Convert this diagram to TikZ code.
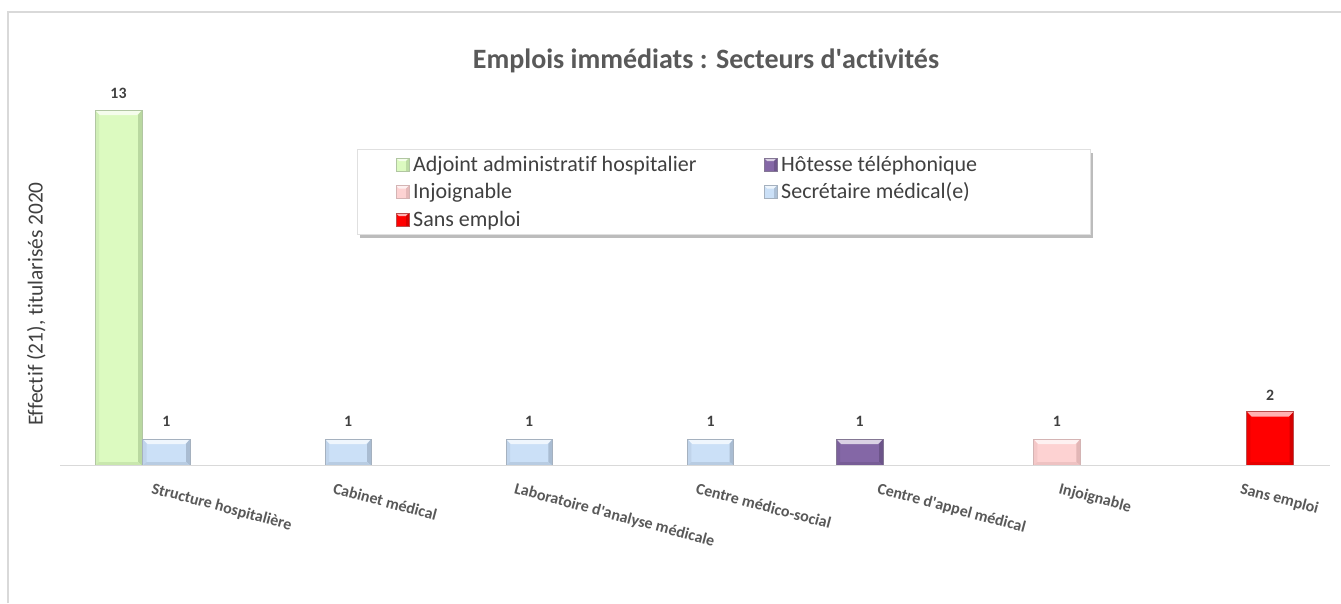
\documentclass[tikz,border=0pt]{standalone}
\usepackage{fontspec}
\setmainfont{Carlito}[Ligatures={NoCommon}]
\usetikzlibrary{shadows}
\definecolor{framegray}{HTML}{D9D9D9}
\definecolor{titlegray}{HTML}{595959}
\definecolor{textdark}{HTML}{404040}
\definecolor{greenM}{HTML}{DCFAC0}
\definecolor{greenD}{HTML}{8FAE7A}
\definecolor{blueM}{HTML}{CBE0F7}
\definecolor{blueD}{HTML}{7F90A4}
\definecolor{purpleM}{HTML}{8467A6}
\definecolor{purpleD}{HTML}{4F3D66}
\definecolor{pinkM}{HTML}{FDD2D2}
\definecolor{pinkD}{HTML}{C29393}
\definecolor{redM}{HTML}{FF0000}
\definecolor{redD}{HTML}{A00000}
\newcommand\bevbar[5]{%
  \fill[#4] (#1,#3) rectangle (#2,465.5);
  \fill[#4!30!white] (#1,#3) -- (#2,#3) -- (#2-5,#3+5) -- (#1+5,#3+5) -- cycle;
  \fill[#4!85!#5] (#1,#3) -- (#1+4,#3+5) -- (#1+4,462) -- (#1,465.5) -- cycle;
  \fill[#4!55!#5] (#2,#3) -- (#2-4,#3+5) -- (#2-4,462) -- (#2,465.5) -- cycle;
  \fill[#4!75!#5] (#1,465.5) -- (#1+4,462) -- (#2-4,462) -- (#2,465.5) -- cycle;
  \draw[#5!70!white, line width=0.6pt] (#1,465.5) -- (#1,#3) -- (#2,#3) -- (#2,465.5);
}
\newcommand\legmark[4]{%
  \fill[#3] (#1,#2-13) rectangle (#1+13,#2);
  \fill[#3!30!white] (#1,#2-13) -- (#1+13,#2-13) -- (#1+10,#2-10) -- (#1+3,#2-10) -- cycle;
  \fill[#3!60!#4] (#1+13,#2-13) -- (#1+10,#2-10) -- (#1+10,#2) -- (#1+13,#2) -- cycle;
  \draw[#4!70!white, line width=0.5pt] (#1,#2-13) rectangle (#1+13,#2);
}
\tikzset{
  title/.style={font=\fontsize{28}{32}\selectfont\bfseries, text=titlegray, inner sep=0pt, anchor=base},
  legtext/.style={font=\fontsize{22}{26}\selectfont, text=textdark, inner sep=0pt, anchor=base west},
  vallabel/.style={font=\fontsize{15.8}{18}\selectfont\bfseries, text=textdark, inner sep=0pt, anchor=base},
  catlabel/.style={font=\fontsize{16}{19}\selectfont\bfseries, text=titlegray, inner sep=0pt, anchor=base west, rotate=-15},
  ylab/.style={font=\fontsize{21.4}{25}\selectfont, text=textdark, inner sep=0pt, anchor=base, rotate=90},
}
\begin{document}
\begin{tikzpicture}[x=1pt,y=-1pt]
\useasboundingbox (0,0) rectangle (1341,603);
\fill[white] (0,0) rectangle (1341,603);
\draw[framegray, line width=1.5pt] (8,603) -- (8,12) -- (1341,12);
% title
\node[title] (title) at (706,68.3) {Emplois immédiats : Secteurs d\textquotesingle activités};
% y label
\node[ylab] (ylabel) at (42.7,304) {Effectif (21), titularisés 2020};
% legend
\node[draw=black!12, fill=white, inner sep=0pt, minimum width=733pt, minimum height=85pt, anchor=north west,
  drop shadow={shadow xshift=3pt, shadow yshift=-3.5pt, opacity=0.4, fill=black!65}] (legend) at (357,149) {};
\legmark{396}{171}{greenM}{greenD}
\node[legtext] (l1) at (413,171) {Adjoint administratif hospitalier};
\legmark{396}{198.5}{pinkM}{pinkD}
\node[legtext] (l2) at (413,198.5) {Injoignable};
\legmark{396}{226}{redM}{redD}
\node[legtext] (l3) at (413,226) {Sans emploi};
\legmark{764}{171}{purpleM}{purpleD}
\node[legtext] (l4) at (781,171) {Hôtesse téléphonique};
\legmark{764}{198.5}{blueM}{blueD}
\node[legtext] (l5) at (781,198.5) {Secrétaire médical(e)};
% bars
\bevbar{95}{142}{110}{greenM}{greenD}
\bevbar{142.7}{190}{439}{blueM}{blueD}
\bevbar{325}{371.2}{439}{blueM}{blueD}
\bevbar{506}{552.3}{439}{blueM}{blueD}
\bevbar{687.3}{733.6}{439}{blueM}{blueD}
\bevbar{836}{883.2}{439}{purpleM}{purpleD}
\bevbar{1033.3}{1080.3}{439}{pinkM}{pinkD}
\bevbar{1246.7}{1293.7}{411.7}{redM}{redD}
% axis
\draw[framegray, line width=1.5pt] (60,465.5) -- (1330,465.5);
% value labels
\node[vallabel] (v1) at (118.5,98.3) {13};
\node[vallabel] (v2) at (166.3,426.7) {1};
\node[vallabel] (v3) at (348.1,426.7) {1};
\node[vallabel] (v4) at (529.2,426.7) {1};
\node[vallabel] (v5) at (710.5,426.7) {1};
\node[vallabel] (v6) at (859.6,426.7) {1};
\node[vallabel] (v7) at (1056.8,426.7) {1};
\node[vallabel] (v8) at (1270.2,400) {2};
% category labels
\node[catlabel] (c1) at (150.7,493) {Structure hospitalière};
\node[catlabel] (c2) at (332.1,493) {Cabinet médical};
\node[catlabel] (c3) at (513.5,493) {Laboratoire d\textquotesingle analyse médicale};
\node[catlabel] (c4) at (695,493) {Centre médico-social};
\node[catlabel] (c5) at (876.4,493) {Centre d\textquotesingle appel médical};
\node[catlabel] (c6) at (1057.9,493) {Injoignable};
\node[catlabel] (c7) at (1239.3,493) {Sans emploi};
\end{tikzpicture}
\end{document}
